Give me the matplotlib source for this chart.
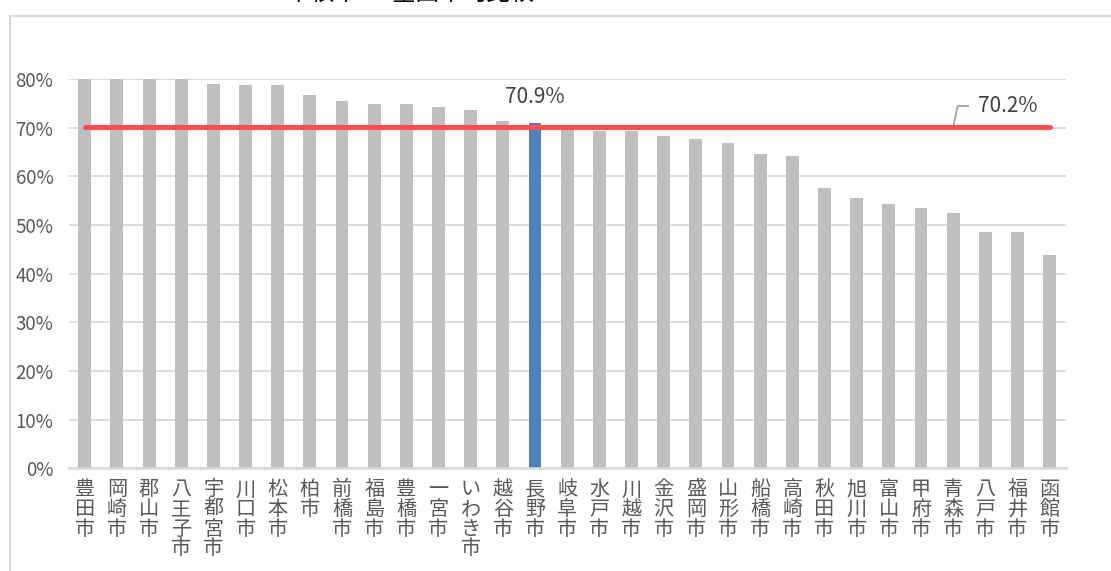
import matplotlib
matplotlib.use("Agg")
import matplotlib.pyplot as plt
from matplotlib.patches import Rectangle
from matplotlib.ticker import FuncFormatter, MultipleLocator

cities = ["豊田市", "岡崎市", "郡山市", "八王子市", "宇都宮市", "川口市", "松本市", "柏市",
          "前橋市", "福島市", "豊橋市", "一宮市", "いわき市", "越谷市", "長野市", "岐阜市",
          "水戸市", "川越市", "金沢市", "盛岡市", "山形市", "船橋市", "高崎市", "秋田市",
          "旭川市", "富山市", "甲府市", "青森市", "八戸市", "福井市", "函館市"]
rates = [0.83, 0.82, 0.82, 0.81, 0.790, 0.789, 0.789, 0.767, 0.756, 0.750, 0.748,
         0.742, 0.737, 0.714, 0.709, 0.695, 0.693, 0.693, 0.683, 0.678, 0.669, 0.647,
         0.642, 0.577, 0.555, 0.544, 0.535, 0.525, 0.486, 0.486, 0.439]
national_avg = 0.702
highlight_city = "長野市"
title_text = "中核市 ー 全国平均比較"

plt.rcParams["font.family"] = ["Noto Sans CJK JP", "DejaVu Sans"]

TXT = "#595959"
NUM = 15
fig = plt.figure(figsize=(11.11, 5.71), dpi=100)
ax = fig.add_axes([0.0618, 0.18, 0.8975, 0.6813])

x = list(range(len(cities)))
colors = ["#4F81BD" if c == highlight_city else "#BFBFBF" for c in cities]
ax.bar(x, rates, width=0.4, color=colors, zorder=2)
ax.plot([x[0], x[-1]], [national_avg, national_avg], color="#FF5050", lw=3.7,
        solid_capstyle="round", zorder=3)

ax.set_ylim(0, 0.8)
ax.set_xlim(-0.5, len(cities) - 0.5)
ax.yaxis.set_major_locator(MultipleLocator(0.1))
ax.yaxis.set_major_formatter(FuncFormatter(lambda v, p: f"{v*100:.0f}%"))
ax.grid(axis="y", color="#D9D9D9", lw=1.3, zorder=0)
ax.set_axisbelow(True)
for s in ["top", "right", "left"]:
    ax.spines[s].set_visible(False)
ax.spines["bottom"].set_color("#D9D9D9")
ax.spines["bottom"].set_linewidth(1.8)
ax.spines["bottom"].set_zorder(4)

ax.set_xticks(x)
ax.set_xticklabels(["\n".join(c) for c in cities], fontsize=14.5, color=TXT,
                   linespacing=0.92, va="top")
ax.tick_params(axis="x", length=0, pad=8)
ax.tick_params(axis="y", length=0, pad=11, labelcolor=TXT, labelsize=13.5)

hi = cities.index(highlight_city)
ax.annotate(f"{rates[hi]*100:.1f}%", xy=(hi, rates[hi]), xytext=(0, 19),
            textcoords="offset points", ha="center", va="center",
            fontsize=NUM, color="#404040", zorder=5)

ax.annotate(f"{national_avg*100:.1f}%", xy=(27.0, national_avg), xytext=(28.7, national_avg + 0.043),
            ha="center", va="center", fontsize=NUM, color="#404040",
            arrowprops=dict(arrowstyle="-", color="#A6A6A6", lw=1.4, shrinkA=5, shrinkB=2,
                            connectionstyle="angle,angleA=0,angleB=78,rad=0"),
            zorder=5)

fig.patches.append(Rectangle((9.5 / 1111, -0.2), 1.3, 1.2 - 15.5 / 571,
                             transform=fig.transFigure, fill=False,
                             edgecolor="#D9D9D9", lw=1.6))
fig.text(0.369, 1 - 1 / 571, title_text, ha="center", va="baseline", fontsize=17, color="#000000")

fig.savefig("out.png", dpi=100)
